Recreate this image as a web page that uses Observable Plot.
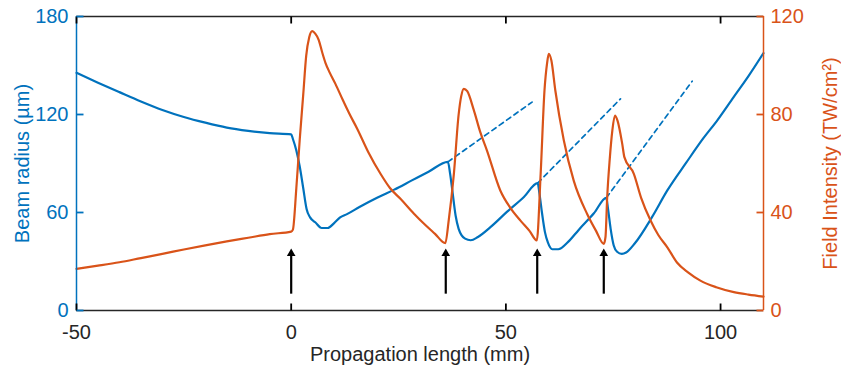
<!DOCTYPE html>
<html>
<head>
<meta charset="utf-8">
<script src="https://cdn.jsdelivr.net/npm/d3@7"></script>
<script src="https://cdn.jsdelivr.net/npm/@observablehq/plot@0.6"></script>
<style>
  html, body { margin: 0; padding: 0; background: #fff; }
</style>
</head>
<body>
<div id="chart"></div>
<script>
// Beam radius (µm), left axis
const blueX = [-50,-45,-40,-35,-30,-25,-20,-15,-10,-5,0,0.4,1.2,2,2.8,3.6,4.4,5.6,7.1,8.5,10,11.4,13,16,20,24,28,32,36.5,37,37.6,38.3,39,39.7,40.5,41.8,43.5,46.4,50.3,54.2,57.4,57.8,58.4,59.1,59.8,60.8,62.2,64.5,67,70.5,73.4,73.8,74.4,75.1,75.9,77,78,80,84,87.6,92,96,99.2,103,106.5,110];
const blueY = [145.5,139.5,133.7,128,122.8,118.5,115,112,110,108.6,107.8,105,98,88,75,62,57,54,50.5,50.5,53.5,57,59,63.5,69,74,79.5,85,91,84,72,58,50,46,44,43,45,51,60.5,69.5,78,72,60,48,41.5,37.5,37.5,42,49.5,59.5,69,62,50,40,36,34.7,35.5,41,57,73.5,90.5,105.5,116.3,130.5,143.5,157.6];

// Field intensity (TW/cm²), right axis
const orangeX = [-50,-45,-40,-35,-30,-25,-20,-15,-10,-5,0,0.4,1.2,2,2.8,3.5,4.2,4.9,5.6,6.4,7.2,8,9,10.3,12,13.5,15.4,18,20.8,23,25.5,28.6,31,33.5,35.9,36.7,37.9,39,39.6,40.2,41,42.5,44,45.6,48.7,51,53.4,55.5,57.2,58.1,59,59.6,60,60.6,61.5,63.5,65.8,68.9,71,72.8,73.2,73.6,74.2,74.8,75.4,76,77.1,77.6,79.8,81.5,83.7,85.5,87.6,89.9,92.5,95.3,99,103.1,106.5,110];
const orangeI = [17,18.3,19.7,21.4,23.1,24.9,26.6,28.2,29.7,31.2,32.2,33,50,70,88,104,111.5,114,113,110.5,105.5,101,97,92.5,86,80.5,74.1,64.5,55.8,50,45.5,39.5,35.3,31.3,27.5,37,56,80,87.5,90.5,89.5,82,73,65.3,49,42,36.7,32.5,28.6,55.8,90,101,104.8,102,90,69.4,53,39.5,32.5,27.2,30,46.3,62,73.5,79.6,77.5,68,62.6,55.8,46,36.7,30.8,25.8,19.5,15.5,12.2,9.5,7.5,6.5,5.7];

// Dashed free-propagation extensions (beam radius)
const dashStartX = [36.5, 57.4, 73.4];
const dashStartY = [91, 78, 69];
const dashEndX = [56.1, 76.7, 93.4];
const dashEndY = [127.6, 129.6, 140.4];

// Arrows (in beam-radius units)
const arrowX = [0, 36, 57.3, 72.8];
const arrowFrom = 10;
const arrowTo = 38;

// Axes
const xTicks = [-50, 0, 50, 100];
const leftTicks = [0, 60, 120, 180];
const rightTicks = [0, 40, 80, 120];
const xDomain = [-50, 110];
const leftDomain = [0, 180];
const rightMax = 120;

const BLUE = "#0072BD";
const ORANGE = "#D95319";
const DARK = "#262626";
const ratio = leftDomain[1] / rightMax;

const W = 841, H = 372, ML = 76, MR = 78, MT = 16, MB = 62;
const TS = 7; // inward tick length, px
const tickLenY = (leftDomain[1] - leftDomain[0]) * TS / (H - MT - MB);
const tickLenX = (xDomain[1] - xDomain[0]) * TS / (W - ML - MR);

const blue = blueX.map((x, i) => ({x, y: blueY[i]}));
const orange = orangeX.map((x, i) => ({x, y: orangeI[i] * ratio}));
const dashed = dashStartX.flatMap((x, i) => [
  {x, y: dashStartY[i], k: i},
  {x: dashEndX[i], y: dashEndY[i], k: i}
]);
const rightTickVals = rightTicks.map(d => d * ratio);

// tick segments as small tables for Plot.link
const bottomTicks = xTicks.map(x => ({x, y1: leftDomain[0], y2: leftDomain[0] + tickLenY}));
const topTicks = xTicks.map(x => ({x, y1: leftDomain[1] - tickLenY, y2: leftDomain[1]}));
const leftTickSeg = leftTicks.map(y => ({y, x1: xDomain[0], x2: xDomain[0] + tickLenX}));
const rightTickSeg = rightTickVals.map(y => ({y, x1: xDomain[1] - tickLenX, x2: xDomain[1]}));

const chart = Plot.plot({
  width: W,
  height: H,
  marginLeft: ML,
  marginRight: MR,
  marginTop: MT,
  marginBottom: MB,
  style: {fontFamily: "'Liberation Sans', Arial, sans-serif", fontSize: "20px", background: "#fff"},
  x: {domain: xDomain},
  y: {domain: leftDomain},
  marks: [
    Plot.line(blue, {x: "x", y: "y", stroke: BLUE, strokeWidth: 2.2, curve: "monotone-x"}),
    Plot.line(dashed, {x: "x", y: "y", z: "k", stroke: BLUE, strokeWidth: 1.7, strokeDasharray: "5,4"}),
    Plot.line(orange, {x: "x", y: "y", stroke: ORANGE, strokeWidth: 2.2, curve: "monotone-x"}),
    // arrows: shaft + filled head
    Plot.ruleX(arrowX, {y1: arrowFrom, y2: arrowTo - 3, stroke: "#000", strokeWidth: 2.2}),
    Plot.dot(arrowX, {x: d => d, y: arrowTo, symbol: "triangle", r: 3.2, dy: 5, fill: "#000", stroke: "none"}),
    // frame
    Plot.ruleY([leftDomain[0], leftDomain[1]], {stroke: DARK, strokeWidth: 1.5}),
    Plot.ruleX([xDomain[0]], {stroke: BLUE, strokeWidth: 1.5}),
    Plot.ruleX([xDomain[1]], {stroke: ORANGE, strokeWidth: 1.5}),
    // inward tick marks (MATLAB style)
    Plot.link(bottomTicks, {x1: "x", x2: "x", y1: "y1", y2: "y2", stroke: "#000", strokeWidth: 1.8}),
    Plot.link(topTicks, {x1: "x", x2: "x", y1: "y1", y2: "y2", stroke: "#000", strokeWidth: 1.8}),
    Plot.link(leftTickSeg, {x1: "x1", x2: "x2", y1: "y", y2: "y", stroke: BLUE, strokeWidth: 1.8}),
    Plot.link(rightTickSeg, {x1: "x1", x2: "x2", y1: "y", y2: "y", stroke: ORANGE, strokeWidth: 1.8}),
    // tick labels
    Plot.axisX({anchor: "bottom", ticks: xTicks, tickSize: 0, tickPadding: 14, tickFormat: d => String(d), color: DARK, fontSize: 20, label: null}),
    Plot.axisY({anchor: "left", ticks: leftTicks, tickSize: 0, tickPadding: 8, tickFormat: d => String(d), color: BLUE, fontSize: 20, label: null}),
    Plot.axisY({anchor: "right", ticks: rightTickVals, tickSize: 0, tickPadding: 7, tickFormat: d => String(Math.round(d / ratio)), color: ORANGE, fontSize: 20, label: null}),
    // axis titles
    Plot.text(["Propagation length (mm)"], {frameAnchor: "bottom", dy: 44, textAnchor: "middle", lineAnchor: "middle", fill: DARK, fontSize: 20}),
    Plot.text(["Beam radius (µm)"], {frameAnchor: "left", dx: -54, rotate: -90, textAnchor: "middle", lineAnchor: "middle", fill: BLUE, fontSize: 20}),
    Plot.text(["Field Intensity (TW/cm²)"], {frameAnchor: "right", dx: 67, rotate: -90, textAnchor: "middle", lineAnchor: "middle", fill: ORANGE, fontSize: 20})
  ]
});
document.getElementById("chart").appendChild(chart);
</script>
</body>
</html>
